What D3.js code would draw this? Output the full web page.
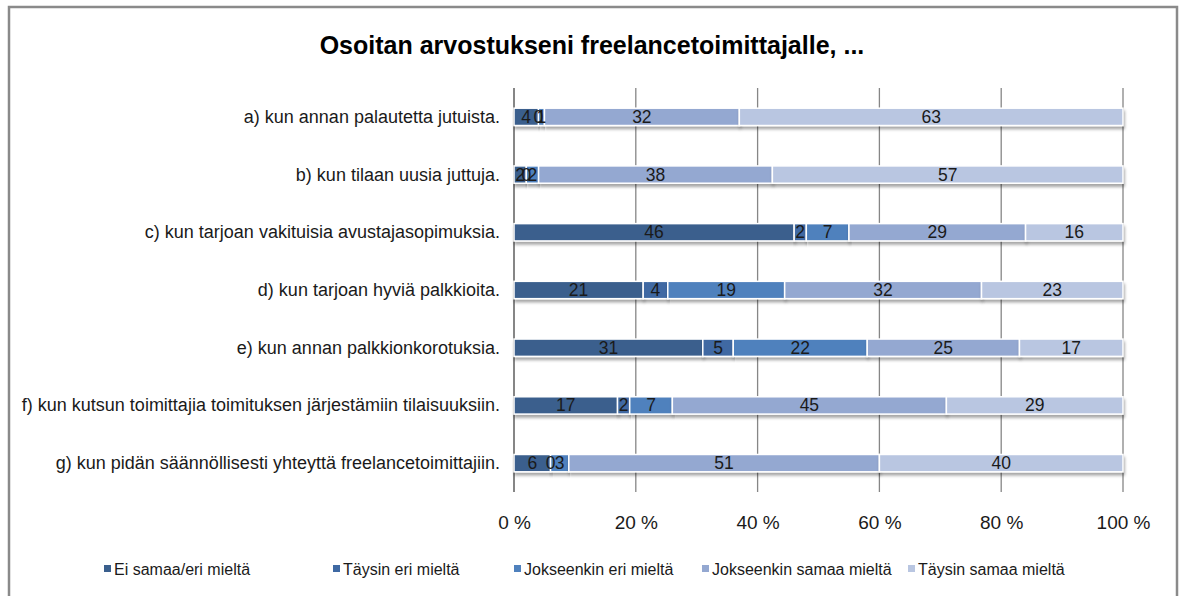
<!DOCTYPE html>
<html><head><meta charset="utf-8">
<script src="https://cdn.jsdelivr.net/npm/d3@7"></script>
<style>
html,body{margin:0;padding:0;background:#fff;}
svg{display:block;font-family:"Liberation Sans Narrow","Liberation Sans",sans-serif;}
</style></head>
<body>
<svg id="chart" width="1186" height="596"></svg>
<script>
const title = "Osoitan arvostukseni freelancetoimittajalle, ...";
const categories = [
  "a) kun annan palautetta jutuista.",
  "b) kun tilaan uusia juttuja.",
  "c) kun tarjoan vakituisia avustajasopimuksia.",
  "d) kun tarjoan hyviä palkkioita.",
  "e) kun annan palkkionkorotuksia.",
  "f) kun kutsun toimittajia toimituksen järjestämiin tilaisuuksiin.",
  "g) kun pidän säännöllisesti yhteyttä freelancetoimittajiin."
];
const seriesNames = ["Ei samaa/eri mieltä","Täysin eri mieltä","Jokseenkin eri mieltä","Jokseenkin samaa mieltä","Täysin samaa mieltä"];
const eiSamaa      = [4, 2, 46, 21, 31, 17, 6];
const taysinEri    = [0, 0, 2, 4, 5, 2, 0];
const jokseenEri   = [1, 2, 7, 19, 22, 7, 3];
const jokseenSamaa = [32, 38, 29, 32, 25, 45, 51];
const taysinSamaa  = [63, 57, 16, 23, 17, 29, 40];
const seriesValues = [eiSamaa, taysinEri, jokseenEri, jokseenSamaa, taysinSamaa];
const colors = ["#3A5F8D","#3F69A3","#4F81BD","#94A8D1","#B9C6E1"];
const tickValues = [0, 0.2, 0.4, 0.6, 0.8, 1.0];
const tickLabels = ["0 %","20 %","40 %","60 %","80 %","100 %"];

const svg = d3.select("#chart");
const defs = svg.append("defs");
const f = defs.append("filter").attr("id","sh").attr("x","-5%").attr("y","-30%").attr("width","110%").attr("height","190%");
f.append("feDropShadow").attr("dx",1).attr("dy",3).attr("stdDeviation",1.6).attr("flood-color","#000").attr("flood-opacity",0.35);

// frame
svg.append("rect").attr("x",9).attr("y",7).attr("width",1168).attr("height",600)
  .attr("fill","#fff").attr("stroke","#8a8a8a").attr("stroke-width",2.5);

svg.append("text").attr("x",592).attr("y",54).attr("text-anchor","middle")
  .attr("font-size",25).attr("font-weight","bold").attr("fill","#000").text(title);

const x = d3.scaleLinear().domain([0,1]).range([514,1123]);
const y = d3.scaleBand().domain(categories).range([88,492]).paddingInner(0.7).paddingOuter(0.35);

// gridlines
svg.append("g").selectAll("line").data(tickValues.slice(1)).join("line")
  .attr("x1",d=>x(d)).attr("x2",d=>x(d)).attr("y1",88).attr("y2",492)
  .attr("stroke","#868686").attr("stroke-width",1.3);
svg.append("line").attr("x1",x(0)).attr("x2",x(0)).attr("y1",88).attr("y2",492)
  .attr("stroke","#868686").attr("stroke-width",2);

// stack
const rows = categories.map((c,i)=>{const o={cat:c}; seriesNames.forEach((s,j)=>o[s]=seriesValues[j][i]); return o;});
const stack = d3.stack().keys(seriesNames).offset(d3.stackOffsetExpand);
const stacked = stack(rows);

const gBars = svg.append("g");
stacked.forEach((layer,j)=>{
  const g = gBars.append("g");
  g.selectAll("rect").data(layer).join("rect")
    .attr("x",d=>x(d[0])).attr("width",d=>Math.max(0,x(d[1])-x(d[0])))
    .attr("y",d=>y(d.data.cat)).attr("height",y.bandwidth())
    .attr("fill",colors[j]).attr("stroke","#fff").attr("stroke-width",1.5)
    .attr("filter","url(#sh)");
});
stacked.forEach((layer,j)=>{
  svg.append("g").selectAll("text").data(layer).join("text")
    .attr("x",d=>(x(d[0])+x(d[1]))/2).attr("y",d=>y(d.data.cat)+y.bandwidth()/2+6)
    .attr("text-anchor","middle").attr("font-size",17.5).attr("fill","#1a1a1a")
    .text(d=>d.data[seriesNames[j]]);
});

// category labels
svg.append("g").selectAll("text").data(categories).join("text")
  .attr("x",500).attr("y",d=>y(d)+y.bandwidth()/2+6).attr("text-anchor","end")
  .attr("font-size",18).attr("fill","#1a1a1a").text(d=>d);

// x axis
const xAxis = d3.axisBottom(x).tickValues(tickValues).tickFormat((d,i)=>tickLabels[i]).tickSize(0).tickPadding(0);
const ax = svg.append("g").attr("transform","translate(0,515)").call(xAxis);
ax.select(".domain").remove();
ax.selectAll("text").attr("font-size",19).attr("fill","#1a1a1a").attr("font-family","Liberation Sans Narrow, Liberation Sans, sans-serif");

// legend
const legX = [104, 333, 514, 702, 908];
const leg = svg.append("g").selectAll("g").data(seriesNames).join("g")
  .attr("transform",(d,i)=>`translate(${legX[i]},570)`);
leg.append("rect").attr("x",0).attr("y",-5).attr("width",7).attr("height",7).attr("fill",(d,i)=>colors[i]);
leg.append("text").attr("x",10).attr("y",5).attr("font-size",16).attr("fill","#1a1a1a").text(d=>d);
</script>
</body></html>
